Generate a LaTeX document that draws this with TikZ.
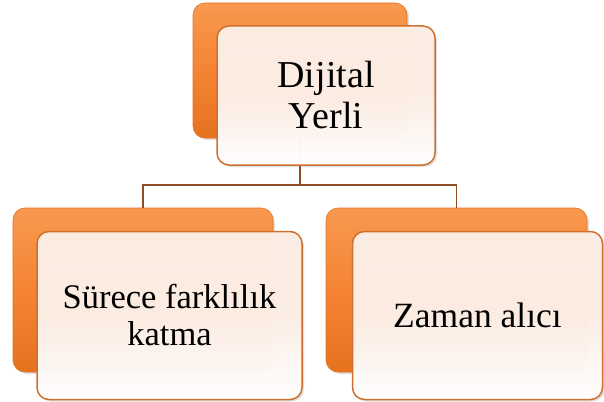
\documentclass[tikz,border=0pt]{standalone}
\usepackage{fontspec}
\setmainfont{Liberation Serif}
\usetikzlibrary{shadows}
\definecolor{orangeTop}{HTML}{F8994F}
\definecolor{orangeMid}{HTML}{F48434}
\definecolor{orangeBot}{HTML}{E5721F}
\definecolor{peach}{HTML}{FCEEE5}
\definecolor{frontBorder}{HTML}{D0702E}
\definecolor{connCol}{HTML}{8F4E26}
\tikzset{
  backbox/.style={rounded corners=12pt, top color=orangeTop, bottom color=orangeBot, middle color=orangeMid,
    draw=orangeBot, line width=0.6pt, drop shadow={shadow xshift=2pt, shadow yshift=-2pt, opacity=0.25}},
  frontbox/.style={rounded corners=12pt, top color=peach, bottom color=white, middle color=peach,
    draw=frontBorder, line width=1.5pt, fill opacity=0.98, text opacity=1, align=center,
    drop shadow={shadow xshift=2pt, shadow yshift=-2pt, opacity=0.25}},
  conn/.style={draw=connCol, line width=1.3pt}
}
\begin{document}
\begin{tikzpicture}[x=1pt,y=-1pt]
\useasboundingbox (0,0) rectangle (604,401);
% back boxes
\node[backbox, minimum width=214pt, minimum height=135pt] (tb) at (300,70.5) {};
\node[backbox, minimum width=260pt, minimum height=164pt] (lb) at (143,290) {};
\node[backbox, minimum width=261pt, minimum height=164pt] (rb) at (456.5,290) {};
% connectors
\coordinate (j) at (300,185);
\draw[conn] (tb.south) -- (j);
\draw[conn] (j) -| (lb.north);
\draw[conn] (j) -| (rb.north);
% front boxes
\node[frontbox, minimum width=218pt, minimum height=139pt, font=\fontsize{38}{41}\selectfont] (tf) at (326,95.5) {Dijital\\Yerli};
\node[frontbox, minimum width=265pt, minimum height=168pt, font=\fontsize{34.5}{37}\selectfont] (lf) at (169.5,315.5) {Sürece farklılık\\katma};
\node[frontbox, minimum width=250pt, minimum height=168pt, font=\fontsize{35.5}{38}\selectfont] (rf) at (477.5,315.5) {Zaman alıcı};
\end{tikzpicture}
\end{document}
